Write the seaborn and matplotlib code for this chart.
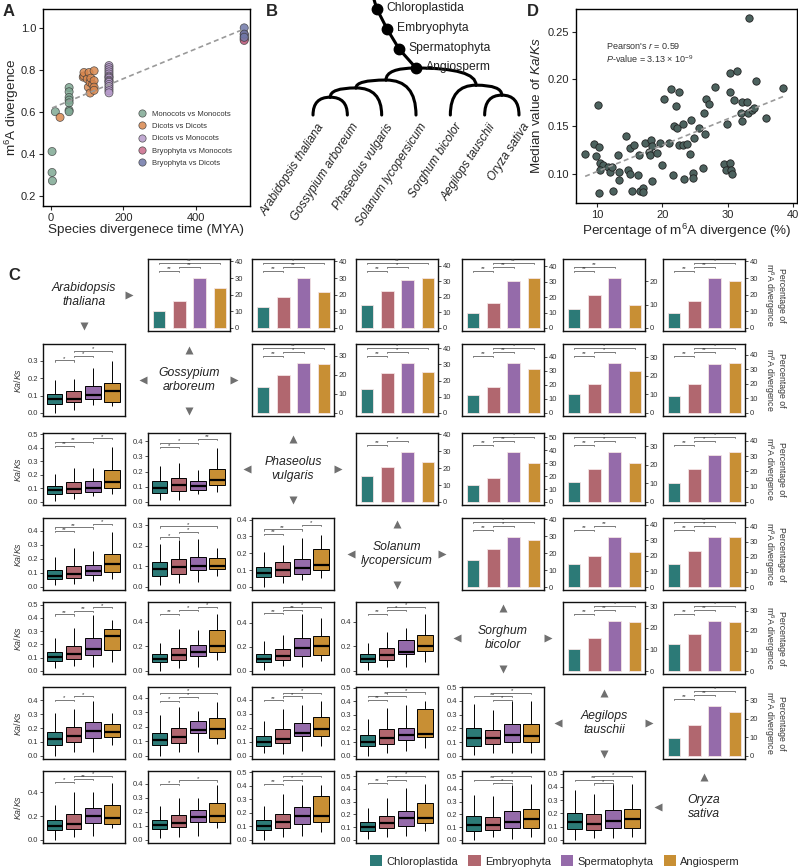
import numpy as np
import pandas as pd
import matplotlib
matplotlib.use("Agg")
import matplotlib.pyplot as plt
import seaborn as sns
from matplotlib.path import Path
from matplotlib.patches import PathPatch, Patch
from matplotlib.ticker import MultipleLocator, FormatStrFormatter

sns.set_theme(style="ticks")
plt.rcParams["font.family"] = ["Liberation Sans", "DejaVu Sans"]
plt.rcParams["mathtext.fontset"] = "custom"
plt.rcParams["mathtext.rm"] = "Liberation Sans"
plt.rcParams["mathtext.it"] = "Liberation Sans:italic"
plt.rcParams["axes.edgecolor"] = "black"
plt.rcParams["axes.linewidth"] = 1.0

# ---------------- data: panel A ----------------
group_names = ["Monocots vs Monocots", "Dicots vs Dicots", "Dicots vs Monocots",
               "Bryophyta vs Monocots", "Bryophyta vs Dicots"]
group_colors = ["#7FA893", "#D9874E", "#B79BCB", "#C96A8A", "#7078A8"]
mm_time = [3, 3, 4, 12, 50, 50, 50, 50, 50, 50, 50]
mm_div = [0.41, 0.31, 0.27, 0.60, 0.715, 0.695, 0.668, 0.655, 0.642, 0.607, 0.600]
dd_time = [25, 89, 91, 91, 100, 103, 105, 108, 108, 110, 115, 119, 119, 119, 119]
dd_div = [0.573, 0.765, 0.771, 0.787, 0.756, 0.717, 0.787, 0.740, 0.689, 0.760,
          0.730, 0.795, 0.748, 0.717, 0.702]
dm_time = [160] * 16
dm_div = [0.82, 0.81, 0.80, 0.79, 0.78, 0.77, 0.765, 0.76, 0.75, 0.745, 0.74,
          0.73, 0.72, 0.71, 0.70, 0.69]
bm_time = [533] * 5
bm_div = [0.97, 0.96, 0.95, 0.945, 0.94]
bd_time = [533] * 3
bd_div = [1.0, 0.97, 0.955]

# ---------------- data: panel B ----------------
tips = ["Arabidopsis thaliana", "Gossypium arboreum", "Phaseolus vulgaris",
        "Solanum lycopersicum", "Sorghum bicolor", "Aegilops tauschii", "Oryza sativa"]
clade_ag = (0, 1, 0.52)
clade_agp = (clade_ag, 2, 0.79)
clade_dicot = (clade_agp, 3, 1.02)
clade_ao = (5, 6, 0.58)
clade_mono = (4, clade_ao, 0.87)
stem_nodes = ["Angiosperm", "Spermatophyta", "Embryophyta", "Chloroplastida"]
stem_heights = [1.37, 1.92, 2.50, 3.09]

# ---------------- data: panel D ----------------
m6a_pct = [8.2, 9.6, 10.3, 9.85, 10.2, 10.4, 11.0, 10.5, 11.7, 12.05, 12.3, 10.3, 12.4,
           13.2, 13.4, 13.4, 14.4, 14.7, 15.05, 15.0, 15.6, 15.4, 16.3, 16.4, 16.6, 17.0,
           17.0, 17.3, 17.9, 18.3, 18.4, 18.1, 18.4, 19.2, 19.6, 19.9, 20.3, 21.3, 22.1,
           22.5, 21.6, 21.0, 21.8, 22.25, 23.1, 22.5, 23.1, 23.3,
           33.2, 30.4, 31.35, 34.35, 38.5, 28.0, 30.4, 26.75, 27.15, 30.9, 32.2, 32.9,
           32.0, 33.1, 33.7, 34.0, 26.3, 32.2, 35.8, 29.9, 24.35, 25.6, 26.5, 24.85,
           23.8, 24.3, 29.45, 30.3, 29.75, 30.5, 30.6, 26.2, 24.7, 24.65]
kaks_median = [0.121, 0.131, 0.128, 0.119, 0.173, 0.111, 0.109, 0.104, 0.107, 0.102, 0.107,
               0.080, 0.082, 0.120, 0.102, 0.093, 0.140, 0.104, 0.100, 0.127, 0.130, 0.082,
               0.099, 0.120, 0.082, 0.085, 0.081, 0.132, 0.123, 0.136, 0.092, 0.120, 0.129,
               0.122, 0.132, 0.109, 0.179, 0.189, 0.171, 0.186, 0.099, 0.132, 0.150, 0.148,
               0.153, 0.130, 0.130, 0.094,
               0.265, 0.206, 0.208, 0.198, 0.191, 0.192, 0.186, 0.179, 0.174, 0.178, 0.176,
               0.176, 0.164, 0.164, 0.167, 0.169, 0.164, 0.156, 0.159, 0.153, 0.157, 0.148,
               0.142, 0.138, 0.131, 0.121, 0.110, 0.111, 0.104, 0.104, 0.100, 0.106, 0.101,
               0.095]

# ---------------- data: panel C ----------------
species = ["Arabidopsis\nthaliana", "Gossypium\narboreum", "Phaseolus\nvulgaris",
           "Solanum\nlycopersicum", "Sorghum\nbicolor", "Aegilops\ntauschii", "Oryza\nsativa"]
clades = ["Chloroplastida", "Embryophyta", "Spermatophyta", "Angiosperm"]
clade_colors = ["#2C7A77", "#B1676F", "#956BAA", "#C88F34"]

# percentage of m6A divergence, upper triangle (row species vs later species)
pct_ath = [[10.3, 16.5, 30.0, 24.0], [12.5, 18.5, 30.0, 21.5], [15.0, 24.0, 30.5, 32.0],
           [10.0, 16.0, 30.5, 32.5], [8.0, 14.0, 21.5, 10.0], [9.0, 16.5, 30.0, 28.0]]
pct_gar = [[13.5, 20.0, 26.1, 25.6], [15.0, 24.8, 30.8, 25.0], [12.5, 18.4, 35.5, 31.5],
           [10.4, 15.7, 26.8, 22.5], [11.8, 19.5, 33.7, 34.2]]
pct_pvu = [[15.5, 20.5, 29.6, 23.5], [13.3, 18.8, 38.6, 30.2], [10.6, 18.0, 27.0, 21.3],
           [12.3, 21.5, 31.0, 32.7]]
pct_sly = [[16.2, 22.3, 29.6, 27.7], [14.8, 19.8, 32.2, 22.3], [15.2, 23.9, 33.2, 33.2]]
pct_sbi = [[10.3, 15.2, 23.2, 22.6], [13.4, 18.3, 24.9, 24.4]]
pct_ata = [[9.9, 16.8, 26.9, 23.5]]

sig_pct_ath = [[(0, 1, "**"), (1, 2, "**"), (0, 3, "**")], [(0, 1, "**"), (1, 2, "**"), (0, 3, "*")],
               [(0, 1, "**"), (1, 2, "*"), (0, 3, "**")], [(0, 1, "**"), (1, 2, "**"), (1, 3, "**")],
               [(0, 1, "**"), (0, 2, "**")], [(0, 1, "**"), (1, 2, "**"), (1, 3, "*")]]
sig_pct_gar = [[(0, 1, "**"), (1, 2, "*"), (0, 3, "**")], [(0, 1, "**"), (1, 2, "*"), (0, 3, "*")],
               [(0, 1, "**"), (1, 2, "**"), (1, 3, "*")], [(0, 1, "**"), (1, 2, "*"), (0, 3, "*")],
               [(0, 1, "**"), (1, 2, "**"), (1, 3, "*")]]
sig_pct_pvu = [[(0, 1, "**"), (1, 2, "*")], [(0, 1, "**"), (1, 2, "**"), (1, 3, "*")],
               [(0, 1, "**"), (1, 2, "*"), (0, 3, "*")], [(0, 1, "**"), (1, 2, "*"), (1, 3, "*")]]
sig_pct_sly = [[(0, 1, "**"), (1, 2, "*"), (0, 3, "*")], [(0, 1, "**"), (1, 2, "**")],
               [(0, 1, "**"), (1, 2, "*"), (0, 3, "**")]]
sig_pct_sbi = [[(0, 1, "**"), (1, 2, "**"), (1, 3, "*")], [(0, 1, "**"), (1, 2, "**"), (1, 3, "*")]]
sig_pct_ata = [[(0, 1, "**"), (1, 2, "**"), (1, 3, "*")]]

# Ka/Ks five-number summaries (low whisker, Q1, median, Q3, high whisker), lower triangle
kaks_gar = [[[0.0, 0.052, 0.079, 0.11, 0.19], [0.017, 0.065, 0.081, 0.123, 0.192],
             [0.046, 0.079, 0.104, 0.152, 0.258], [0.037, 0.065, 0.127, 0.171, 0.296]]]
kaks_pvu = [[[0.01, 0.055, 0.085, 0.12, 0.205], [0.02, 0.065, 0.095, 0.145, 0.25],
             [0.04, 0.075, 0.105, 0.155, 0.25], [0.06, 0.10, 0.15, 0.235, 0.41]],
            [[0.01, 0.06, 0.09, 0.135, 0.235], [0.015, 0.075, 0.11, 0.155, 0.26],
             [0.05, 0.08, 0.105, 0.135, 0.21], [0.065, 0.11, 0.145, 0.215, 0.355]]]
kaks_sly = [[[0.01, 0.055, 0.08, 0.12, 0.21], [0.02, 0.065, 0.09, 0.15, 0.275],
             [0.045, 0.085, 0.11, 0.155, 0.255], [0.055, 0.105, 0.165, 0.235, 0.39]],
            [[0.008, 0.055, 0.085, 0.12, 0.21], [0.02, 0.065, 0.095, 0.135, 0.23],
             [0.025, 0.08, 0.10, 0.145, 0.235], [0.055, 0.085, 0.10, 0.14, 0.19]],
            [[0.0, 0.06, 0.085, 0.12, 0.205], [0.025, 0.065, 0.10, 0.15, 0.25],
             [0.04, 0.075, 0.11, 0.165, 0.29], [0.055, 0.10, 0.13, 0.225, 0.31]]]
kaks_sbi = [[[0.02, 0.075, 0.105, 0.145, 0.245], [0.04, 0.09, 0.13, 0.185, 0.32],
             [0.03, 0.12, 0.165, 0.25, 0.42], [0.07, 0.155, 0.265, 0.315, 0.385]],
            [[0.0, 0.075, 0.10, 0.135, 0.23], [0.025, 0.085, 0.13, 0.19, 0.34],
             [0.03, 0.125, 0.155, 0.21, 0.33], [0.085, 0.155, 0.205, 0.33, 0.46]],
            [[0.01, 0.07, 0.10, 0.14, 0.245], [0.04, 0.09, 0.12, 0.18, 0.30],
             [0.03, 0.12, 0.19, 0.275, 0.47], [0.08, 0.13, 0.205, 0.285, 0.44]],
            [[0.01, 0.07, 0.10, 0.135, 0.23], [0.03, 0.09, 0.13, 0.185, 0.32],
             [0.03, 0.135, 0.152, 0.248, 0.35], [0.073, 0.158, 0.20, 0.29, 0.46]]]
kaks_ata = [[[0.0, 0.075, 0.12, 0.17, 0.305], [0.025, 0.10, 0.14, 0.21, 0.335],
             [0.03, 0.13, 0.18, 0.245, 0.395], [0.08, 0.135, 0.17, 0.23, 0.305]],
            [[0.0, 0.075, 0.11, 0.16, 0.285], [0.025, 0.09, 0.13, 0.195, 0.34],
             [0.03, 0.155, 0.18, 0.24, 0.31], [0.08, 0.125, 0.185, 0.26, 0.375]],
            [[0.02, 0.07, 0.10, 0.145, 0.245], [0.015, 0.09, 0.12, 0.19, 0.33],
             [0.035, 0.14, 0.165, 0.235, 0.36], [0.07, 0.145, 0.19, 0.28, 0.39]],
            [[0.0, 0.07, 0.105, 0.155, 0.27], [0.02, 0.09, 0.13, 0.20, 0.35],
             [0.035, 0.118, 0.155, 0.205, 0.37], [0.06, 0.138, 0.163, 0.343, 0.405]],
            [[0.01, 0.075, 0.13, 0.20, 0.375], [0.02, 0.085, 0.13, 0.185, 0.33],
             [0.02, 0.10, 0.155, 0.23, 0.40], [0.02, 0.10, 0.145, 0.235, 0.40]]]
kaks_osa = [[[0.0, 0.08, 0.12, 0.17, 0.295], [0.025, 0.09, 0.135, 0.22, 0.40],
             [0.03, 0.145, 0.20, 0.265, 0.40], [0.10, 0.135, 0.185, 0.29, 0.48]],
            [[0.015, 0.075, 0.105, 0.145, 0.24], [0.02, 0.09, 0.12, 0.175, 0.30],
             [0.03, 0.13, 0.165, 0.21, 0.30], [0.085, 0.13, 0.17, 0.26, 0.39]],
            [[0.0, 0.07, 0.10, 0.145, 0.25], [0.02, 0.09, 0.135, 0.195, 0.34],
             [0.03, 0.12, 0.18, 0.24, 0.405], [0.06, 0.13, 0.175, 0.325, 0.41]],
            [[0.01, 0.07, 0.10, 0.14, 0.25], [0.025, 0.09, 0.135, 0.19, 0.33],
             [0.03, 0.11, 0.175, 0.23, 0.41], [0.07, 0.135, 0.175, 0.29, 0.44]],
            [[0.0, 0.07, 0.115, 0.19, 0.355], [0.02, 0.08, 0.12, 0.18, 0.345],
             [0.01, 0.09, 0.14, 0.225, 0.43], [0.02, 0.095, 0.16, 0.245, 0.44]],
            [[0.0, 0.08, 0.135, 0.205, 0.38], [0.015, 0.075, 0.12, 0.195, 0.35],
             [0.015, 0.09, 0.145, 0.225, 0.42], [0.02, 0.09, 0.155, 0.235, 0.42]]]

sig_kaks_gar = [[(0, 1, "*"), (1, 2, "*"), (1, 3, "*")]]
sig_kaks_pvu = [[(0, 1, "**"), (0, 2, "**"), (2, 3, "*")], [(0, 1, "*"), (0, 2, "*"), (2, 3, "**")]]
sig_kaks_sly = [[(0, 1, "**"), (0, 2, "**"), (2, 3, "*")], [(0, 1, "*"), (1, 2, "*"), (0, 3, "*")],
                [(0, 1, "**"), (0, 2, "**"), (2, 3, "*")]]
sig_kaks_sbi = [[(0, 1, "**"), (1, 2, "**"), (2, 3, "*")], [(0, 1, "**"), (1, 2, "*"), (2, 3, "*")],
                [(0, 1, "**"), (1, 2, "**"), (1, 3, "*")], [(0, 1, "**"), (1, 2, "*"), (1, 3, "*")]]
sig_kaks_ata = [[(0, 1, "*"), (1, 2, "*")], [(0, 1, "*"), (1, 2, "*"), (0, 3, "*")],
                [(0, 1, "**"), (1, 2, "*"), (1, 3, "*")], [(0, 1, "**"), (0, 2, "**"), (1, 3, "*")],
                [(1, 2, "*"), (0, 2, "**"), (1, 3, "*")]]
sig_kaks_osa = [[(0, 1, "*"), (1, 2, "**"), (1, 3, "*")], [(0, 1, "*"), (1, 3, "*")],
                [(0, 1, "**"), (1, 2, "*"), (1, 3, "*")], [(0, 1, "**"), (1, 2, "*"), (1, 3, "*")],
                [(1, 2, "*"), (0, 2, "**"), (1, 3, "*")], [(1, 2, "*"), (0, 2, "**"), (1, 3, "*")]]

pct_rows = [pct_ath, pct_gar, pct_pvu, pct_sly, pct_sbi, pct_ata]
sig_pct_rows = [sig_pct_ath, sig_pct_gar, sig_pct_pvu, sig_pct_sly, sig_pct_sbi, sig_pct_ata]
kaks_rows = [kaks_gar, kaks_pvu, kaks_sly, kaks_sbi, kaks_ata, kaks_osa]
sig_kaks_rows = [sig_kaks_gar, sig_kaks_pvu, sig_kaks_sly, sig_kaks_sbi, sig_kaks_ata, sig_kaks_osa]

# ---------------- figure ----------------
W, H = 798, 868
fig = plt.figure(figsize=(W / 100, H / 100), dpi=100)


def px_axes(left, top, width, height):
    return fig.add_axes([left / W, 1 - (top + height) / H, width / W, height / H])


# A. m6A divergence vs species divergence time
ax = px_axes(43, 9, 207, 197)
times = [mm_time, dd_time, dm_time, bm_time, bd_time]
divs = [mm_div, dd_div, dm_div, bm_div, bd_div]
df_a = pd.DataFrame({
    "time": np.concatenate(times),
    "div": np.concatenate(divs),
    "group": np.concatenate([[g] * len(t) for g, t in zip(group_names, times)]),
})
sns.regplot(data=df_a, x="time", y="div", scatter=False, ci=None, ax=ax,
            line_kws=dict(color="#9a9a9a", lw=1.2, ls=(0, (3, 2))))
sns.scatterplot(data=df_a, x="time", y="div", hue="group", hue_order=group_names,
                palette=group_colors, s=34, alpha=0.85, edgecolor="#3a3a3a",
                linewidth=0.5, ax=ax)
sns.move_legend(ax, "upper left", bbox_to_anchor=(0.41, 0.52), frameon=False, title=None,
                fontsize=5.5, labelspacing=0.65, handletextpad=0.2, markerscale=0.9)
for t in ax.get_legend().get_texts():
    t.set_color("#333333")
ax.set_xlim(-22, 549)
ax.set_ylim(0.15, 1.09)
ax.set_xticks([0, 200, 400])
ax.set_yticks([0.2, 0.4, 0.6, 0.8, 1.0])
ax.set_xlabel("Species divergenece time (MYA)", fontsize=9.7, labelpad=1)
ax.set_ylabel("m$^6$A divergence", fontsize=9.7, labelpad=0)
ax.tick_params(labelsize=8, length=3, width=0.8, pad=2)

# B. tree
ax = px_axes(270, 0, 270, 250)
ax.set_xlim(-1.253, 6.612)
ax.set_ylim(-3.93, 3.35)
ax.axis("off")


def node_xy(c):
    if isinstance(c, int):
        return float(c), 0.0
    return (node_xy(c[0])[0] + node_xy(c[1])[0]) / 2, c[2]


def draw_arc(p, q):
    path = Path([p, (q[0], p[1]), q], [Path.MOVETO, Path.CURVE3, Path.CURVE3])
    ax.add_patch(PathPatch(path, fill=False, lw=2.2, edgecolor="black", capstyle="round"))


def draw_clade(c):
    if isinstance(c, int):
        return
    p = node_xy(c)
    for child in c[:2]:
        draw_arc(p, node_xy(child))
        draw_clade(child)


angio = (np.mean(range(len(tips))), stem_heights[0])
for sub in (clade_dicot, clade_mono):
    draw_arc(angio, node_xy(sub))
    draw_clade(sub)
stem_dx = [0.0, -0.49, -0.84, -1.14]
sx = [angio[0] + d for d in stem_dx] + [angio[0] - 1.22]
sy = stem_heights + [3.35]
ax.plot(sx, sy, color="black", lw=2.2, solid_capstyle="round")
ax.plot(sx[:4], sy[:4], "o", color="black", ms=7.5)
for name, x, y in zip(stem_nodes, sx, sy):
    ax.text(x + 0.28, y + 0.03, name, fontsize=8.7, va="center", ha="left", color="#222222")
for i, name in enumerate(tips):
    ax.text(i + 0.1, -0.18, name, rotation=57, rotation_mode="anchor", ha="right", va="top",
            fontsize=8.6, style="italic", color="#222222")

# D. Ka/Ks vs m6A divergence
ax = px_axes(576, 9, 221, 194)
df_d = pd.DataFrame({"pct": m6a_pct, "kaks": kaks_median})
sns.regplot(data=df_d, x="pct", y="kaks", scatter=False, ci=None, ax=ax,
            line_kws=dict(color="#9a9a9a", lw=1.2, ls=(0, (3, 2))))
sns.scatterplot(data=df_d, x="pct", y="kaks", color="#4C625E", s=28, edgecolor="#222222",
                linewidth=0.6, ax=ax)
ax.set_xlim(6.8, 40.6)
ax.set_ylim(0.069, 0.274)
ax.set_xticks([10, 20, 30, 40])
ax.set_yticks([0.10, 0.15, 0.20, 0.25])
ax.yaxis.set_major_formatter(FormatStrFormatter("%.2f"))
ax.set_xlabel("Percentage of m$^6$A divergence (%)", fontsize=9.7, labelpad=1)
ax.set_ylabel("Median value of $Ka/Ks$", fontsize=9.7, labelpad=3)
ax.tick_params(labelsize=8, length=3, width=0.8, pad=2)
ax.text(0.135, 0.81, "Pearson's $r$ = 0.59", transform=ax.transAxes, fontsize=6.5,
        color="#333333", va="center")
ax.text(0.135, 0.74, "$P$-value = 3.13 × 10$^{-9}$", transform=ax.transAxes, fontsize=6.5,
        color="#333333", va="center")

# C. pairwise grid
col_left = [43, 148, 252, 356, 462, 563, 663]
row_top = [259, 344, 433, 518, 602, 687, 771]
cell_w, cell_h = 82, 72


def draw_brackets(ax, sigs, base, step, tick):
    for k, (a, b, lab) in enumerate(sigs):
        y = base + k * step
        ax.plot([a, a, b, b], [y - tick, y, y, y - tick], color="#444444", lw=0.5,
                clip_on=False)
        ax.text((a + b) / 2, y - tick * 0.3, lab, ha="center", va="bottom", fontsize=4.3,
                color="#333333")


def style_cell(ax):
    ax.set_xticks([])
    ax.set_xlabel("")
    ax.set_ylabel("")
    ax.tick_params(axis="y", labelsize=5.5, length=2, width=0.6, pad=1.5, colors="#333333")
    for s in ax.spines.values():
        s.set_linewidth(1.0)
        s.set_color("#111111")


for i in range(7):
    for j in range(7):
        ax = px_axes(col_left[j], row_top[i], cell_w, cell_h)
        if i == j:
            ax.set_xlim(0, 1)
            ax.set_ylim(0, 1)
            ax.axis("off")
            ax.text(0.5, 0.5, species[i], ha="center", va="center", fontsize=8.8,
                    style="italic", color="#222222", linespacing=1.2)
            arrows = []
            if i > 0:
                arrows.append((0.5, 0.92, "^"))
            if i < 6:
                arrows.append((0.5, 0.07, "v"))
            if j > 0:
                arrows.append((-0.06, 0.5, "<"))
            if j < 6:
                arrows.append((1.05, 0.5, ">"))
            for x, y, m in arrows:
                ax.plot(x, y, marker=m, color="#707070", ms=6, clip_on=False, mec="none")
        elif j > i:
            vals = pct_rows[i][j - i - 1]
            sigs = sig_pct_rows[i][j - i - 1]
            df = pd.DataFrame({"clade": clades, "pct": vals})
            sns.barplot(data=df, x="clade", y="pct", hue="clade", palette=clade_colors,
                        saturation=1, width=0.62, edgecolor="#f4e4e4", linewidth=0.6,
                        errorbar=None, legend=False, ax=ax)
            top = max(vals)
            ax.set_ylim(-0.06 * top, 1.38 * top)
            ax.set_xlim(-0.55, 3.5)
            draw_brackets(ax, sigs, 1.15 * top, 0.08 * top, 0.03 * top)
            style_cell(ax)
            ax.yaxis.set_major_locator(MultipleLocator(10))
            ax.yaxis.tick_right()
            if j == 6:
                ax.yaxis.set_label_position("right")
                ax.set_ylabel("Percentage of\nm$^6$A divergence", rotation=270, fontsize=6.3,
                              labelpad=20, color="#333333", linespacing=1.15)
        else:
            stats = kaks_rows[i - 1][j]
            sigs = sig_kaks_rows[i - 1][j]
            df = pd.DataFrame({"clade": np.repeat(clades, 5), "kaks": np.concatenate(stats)})
            sns.boxplot(data=df, x="clade", y="kaks", hue="clade", palette=clade_colors,
                        saturation=1, whis=(0, 100), width=0.8, showfliers=False,
                        showcaps=False, linecolor="black", linewidth=0.7,
                        medianprops=dict(color="black", linewidth=1.6), legend=False, ax=ax)
            hi = max(s[4] for s in stats)
            top = hi + 0.1
            ax.set_ylim(-0.045 * top, top)
            ax.set_xlim(-0.6, 3.67)
            draw_brackets(ax, sigs, hi + 0.006, 0.027, 0.008)
            style_cell(ax)
            ax.yaxis.set_major_locator(MultipleLocator(0.2 if top > 0.545 else 0.1))
            ax.yaxis.set_major_formatter(FormatStrFormatter("%.1f"))
            if j == 0:
                ax.set_ylabel("$Ka/Ks$", fontsize=6.3, labelpad=3, color="#333333")

handles = [Patch(facecolor=c, edgecolor="none", label=l) for c, l in zip(clade_colors, clades)]
fig.legend(handles=handles, loc="center", bbox_to_anchor=(555 / W, 1 - 861 / H), ncol=4,
           frameon=False, fontsize=8, handlelength=1.1, handleheight=1.1,
           handletextpad=0.4, columnspacing=0.9)

for lab, x, y in [("A", 3, 4), ("B", 266, 4), ("D", 527, 4), ("C", 8, 268)]:
    fig.text(x / W, 1 - y / H, lab, fontsize=12, fontweight="bold", va="top", ha="left")

fig.savefig("out.png", dpi=100)
